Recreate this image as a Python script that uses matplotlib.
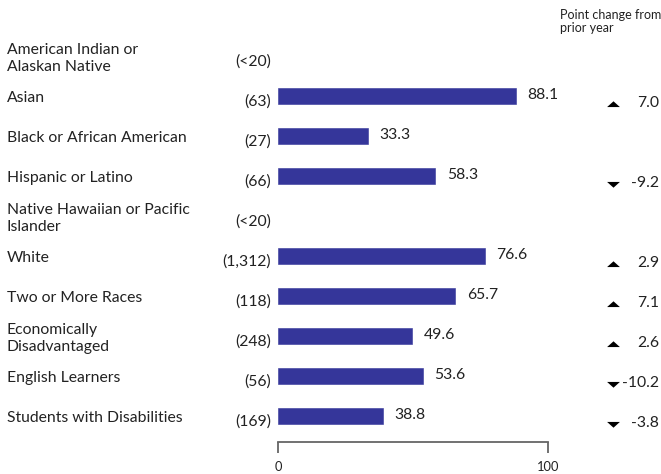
import matplotlib
matplotlib.use("Agg")
import matplotlib.pyplot as plt
from matplotlib.transforms import blended_transform_factory
from matplotlib.path import Path

plt.rcParams['font.family'] = ['Lato', 'DejaVu Sans']

categories = [
    "American Indian or\nAlaskan Native",
    "Asian",
    "Black or African American",
    "Hispanic or Latino",
    "Native Hawaiian or Pacific\nIslander",
    "White",
    "Two or More Races",
    "Economically\nDisadvantaged",
    "English Learners",
    "Students with Disabilities",
]
counts = ["(<20)", "(63)", "(27)", "(66)", "(<20)", "(1,312)", "(118)", "(248)", "(56)", "(169)"]
values = [None, 88.1, 33.3, 58.3, None, 76.6, 65.7, 49.6, 53.6, 38.8]
changes = [None, 7.0, None, -9.2, None, 2.9, 7.1, 2.6, -10.2, -3.8]
x_ticks = [0, 100]

W, H = 661, 474
fig = plt.figure(figsize=(W / 100, H / 100), dpi=100)
ax = fig.add_axes([278 / W, 32 / H, 270 / W, (H - 32) / H])
ax.set_xlim(0, 100)
ax.set_ylim(9.65, -1.4)

bar_color = "#35369a"
text_color = "#222222"
axis_color = "#666666"
fs = 11.3

rows = list(range(len(categories)))
for i, v in zip(rows, values):
    if v is None:
        continue
    ax.barh(i, v, height=0.4, color=bar_color, edgecolor=bar_color,
            linewidth=0.4, joinstyle="round")
    ax.text(v + 4.3, i - 0.02, f"{v:.1f}", va="center", ha="left",
            fontsize=fs, color=text_color, clip_on=False)

fig_y = blended_transform_factory(fig.transFigure, ax.transData)
for i, lab, n in zip(rows, categories, counts):
    ax.text(7 / W, i + 0.06, lab, transform=fig_y, ha="left", va="center",
            fontsize=fs, color=text_color, linespacing=1.25)
    ax.text(271 / W, i + 0.13, n, transform=fig_y, ha="right", va="center",
            fontsize=fs, color=text_color)

up = Path([(-1, -0.4), (1, -0.4), (0, 0.5), (-1, -0.4)],
          [Path.MOVETO, Path.LINETO, Path.LINETO, Path.CLOSEPOLY])
down = Path([(-1, 0.4), (1, 0.4), (0, -0.5), (-1, 0.4)],
            [Path.MOVETO, Path.LINETO, Path.LINETO, Path.CLOSEPOLY])
for i, c in zip(rows, changes):
    if c is None:
        continue
    ax.scatter([613 / W], [i + 0.2], transform=fig_y, marker=up if c > 0 else down,
               s=85, color="black", clip_on=False, linewidths=0)
    ax.text(659 / W, i + 0.18, f"{c:.1f}", transform=fig_y, ha="right", va="center",
            fontsize=fs, color=text_color)

fig.text(560 / W, 1 - 9 / H, "Point change from\nprior year", ha="left", va="top",
         fontsize=9, color=text_color, linespacing=1.15)

for s in ("top", "right", "left"):
    ax.spines[s].set_visible(False)
ax.spines["bottom"].set_color(axis_color)
ax.spines["bottom"].set_linewidth(1.3)
ax.set_yticks([])
ax.set_xticks(x_ticks)
ax.tick_params(axis="x", direction="out", length=8, width=1.3, color=axis_color,
               labelsize=9.3, labelcolor=text_color, pad=6)
ax.patch.set_visible(False)

fig.savefig("out.png", dpi=100)
